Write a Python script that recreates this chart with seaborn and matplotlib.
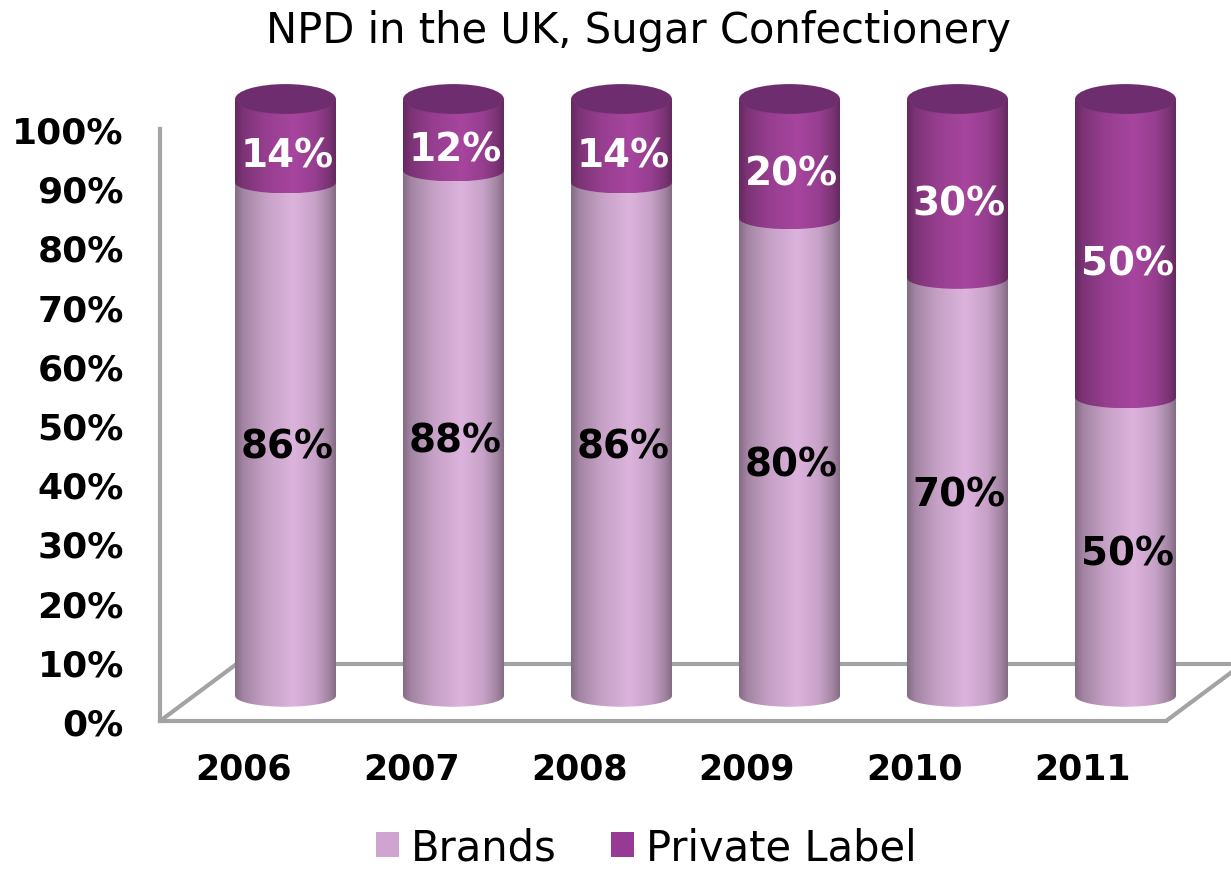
import numpy as np
import pandas as pd
import matplotlib
matplotlib.use("Agg")
import matplotlib.pyplot as plt
import seaborn as sns
from matplotlib.patches import Ellipse, Rectangle, Patch
from matplotlib.colors import to_rgb

# ---- data -------------------------------------------------------------
years = ["2006", "2007", "2008", "2009", "2010", "2011"]
brands = [0.86, 0.88, 0.86, 0.80, 0.70, 0.50]
private_label = [0.14, 0.12, 0.14, 0.20, 0.30, 0.50]
y_ticks = [0.0, 0.1, 0.2, 0.3, 0.4, 0.5, 0.6, 0.7, 0.8, 0.9, 1.0]
y_tick_labels = ["0%", "10%", "20%", "30%", "40%", "50%",
                 "60%", "70%", "80%", "90%", "100%"]
series_names = ["Brands", "Private Label"]
title = "NPD in the UK, Sugar Confectionery"

# ---- styling ----------------------------------------------------------
brands_colour = "#D0A4D0"
private_colour = "#963A96"
brands_light = "#DCB3DC"
private_light = "#A7459F"
cap_colour = "#6E2D6F"
floor_colour = "#A3A3A3"

sns.set_theme(style="white")
plt.rcParams["font.family"] = ["DejaVu Sans"]
plt.rcParams["text.color"] = "black"

W, H = 1231, 870
fig = plt.figure(figsize=(W / 100, H / 100), dpi=100)
fig.patch.set_facecolor("white")


def px_axes(left, top, right, bottom):
    return fig.add_axes([left / W, 1 - bottom / H, (right - left) / W, (bottom - top) / H])


# ---- front frame: value axis, category labels and the floor ------------
frame = px_axes(160, 130, 1166, 722)
frame.set_facecolor("none")
frame.set_xlim(-0.5, 5.5)
frame.set_ylim(0, 1)
frame.set_xticks(range(len(years)), years)
frame.set_yticks(y_ticks, y_tick_labels)
frame.tick_params(axis="y", length=0, pad=26, labelsize=26)
frame.tick_params(axis="x", length=0, pad=22, labelsize=25)
for lab in frame.get_xticklabels() + frame.get_yticklabels():
    lab.set_fontweight("bold")
    lab.set_color("black")
for side in ("top", "right"):
    frame.spines[side].set_visible(False)
for side in ("left", "bottom"):
    frame.spines[side].set_color(floor_colour)
    frame.spines[side].set_linewidth(3)
frame.grid(False)

# depth of the floor, in frame data units
dx, dy = 0.46, 0.097
floor_kw = dict(color=floor_colour, lw=3, clip_on=False, solid_capstyle="butt")
frame.plot([-0.5, -0.5 + dx], [0, dy], **floor_kw)
frame.plot([5.5, 5.5 + dx], [0, dy], **floor_kw)
frame.plot([-0.5 + dx, 5.5 + dx], [dy, dy], **floor_kw)

# ---- cylinders ----------------------------------------------------------
df = pd.DataFrame({"year": years, "brands": brands, "private": private_label})
df["total"] = df["brands"] + df["private"]

bars = px_axes(201.5, 70.15, 1209.5, 726.85)
sns.barplot(data=df, x="year", y="total", color=private_colour, saturation=1,
            width=0.6, edgecolor="none", linewidth=0, ax=bars)
sns.barplot(data=df, x="year", y="brands", color=brands_colour, saturation=1,
            width=0.6, edgecolor="none", linewidth=0, ax=bars)
bars.set_xlim(-0.5, 5.5)
bars.set_ylim(-0.05, 1.05)
bars.set_axis_off()

total_bars, brand_bars = bars.containers[0], bars.containers[1]


def shading(light):
    """Horizontal cylinder shading: dark rim, bright band right of centre."""
    t = np.linspace(0, 1, 200)
    stops_t = [0.0, 0.08, 0.3, 0.58, 0.8, 0.93, 1.0]
    stops_f = [0.60, 0.74, 0.90, 1.0, 0.90, 0.74, 0.60]
    f = np.interp(t, stops_t, stops_f)
    rgb = np.array(to_rgb(light))[None, :] * f[:, None]
    return rgb[None, :, :]


e_bottom = 0.018
e_top = 0.025

for i, (tb, bb) in enumerate(zip(total_bars, brand_bars)):
    x0, w = bb.get_x(), bb.get_width()
    xc = x0 + w / 2
    b = bb.get_height()
    top = tb.get_height()

    # brand segment: body clipped to the seaborn bar, plus rounded base
    for clip in (bb, Ellipse((xc, 0), w, 2 * e_bottom, transform=bars.transData)):
        im = bars.imshow(shading(brands_light), extent=[x0, x0 + w, -e_bottom, b],
                         aspect="auto", interpolation="bilinear", zorder=3)
        im.set_clip_path(clip)

    # private-label segment: body above the brand value with a curved underside
    body = Rectangle((x0, b), w, top - b, transform=bars.transData)
    arc = Ellipse((xc, b), w, 2 * e_bottom, transform=bars.transData)
    for clip in (body, arc):
        im = bars.imshow(shading(private_light), extent=[x0, x0 + w, b - e_bottom, top],
                         aspect="auto", interpolation="bilinear", zorder=4)
        im.set_clip_path(clip)

    # top cap
    bars.add_patch(Ellipse((xc, top), w, 2 * e_top, facecolor=cap_colour,
                           edgecolor="none", zorder=5))

    # value labels
    bars.text(xc + 0.01, b / 2 - 0.012, f"{round(brands[i] * 100)}%",
              ha="center", va="center", fontsize=28, fontweight="bold",
              color="black", zorder=6)
    bars.text(xc + 0.01, b + (top - b) / 2 - 0.025, f"{round(private_label[i] * 100)}%",
              ha="center", va="center", fontsize=28, fontweight="bold",
              color="white", zorder=6)

bars.set_xlim(-0.5, 5.5)
bars.set_ylim(-0.05, 1.05)

# ---- title and legend -----------------------------------------------------
fig.text(0.519, 1 - 31 / H, title, ha="center", va="center", fontsize=30, color="black")

handles = [Patch(facecolor=brands_colour, edgecolor="none"),
           Patch(facecolor=private_colour, edgecolor="none")]
fig.legend(handles, series_names, loc="center", bbox_to_anchor=(0.525, 0.025),
           ncol=2, frameon=False, fontsize=30, handlelength=0.55, handleheight=0.55,
           handletextpad=0.3, columnspacing=1.3, borderpad=0, labelcolor="black")

fig.savefig("out.png", dpi=100, facecolor="white")
